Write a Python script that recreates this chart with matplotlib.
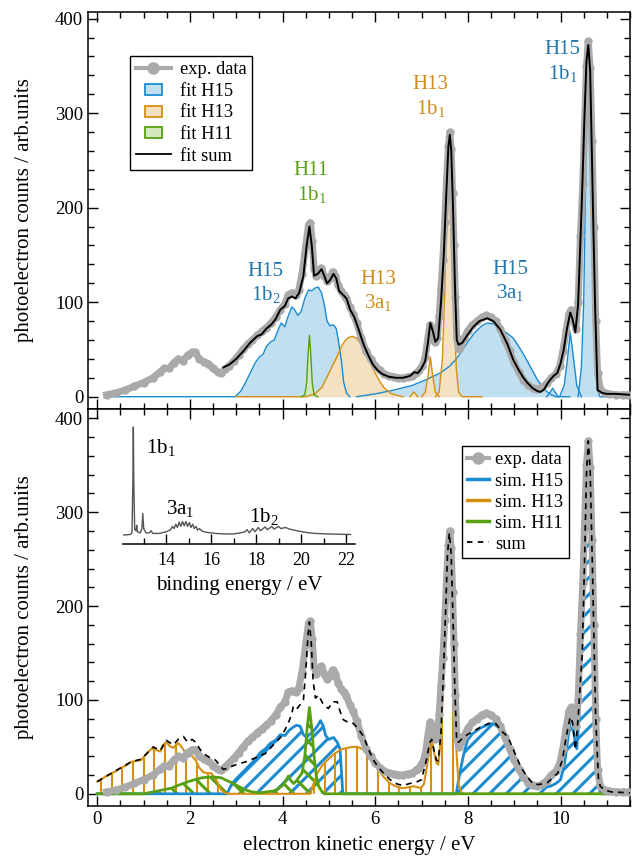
import numpy as np
import matplotlib
matplotlib.use("Agg")
import matplotlib.pyplot as plt
import matplotlib.patches as mpatches
from matplotlib.lines import Line2D
from matplotlib.legend_handler import HandlerPatch
from matplotlib.ticker import MultipleLocator

plt.rcParams['font.family'] = 'Liberation Serif'
plt.rcParams['mathtext.fontset'] = 'custom'
plt.rcParams['mathtext.rm'] = 'Liberation Serif'
plt.rcParams['mathtext.it'] = 'Liberation Serif:italic'
plt.rcParams['font.size'] = 13
plt.rcParams['axes.linewidth'] = 1.1

# colours
c_blue, f_blue, t_blue = '#1b8bd1', '#c0e0f1', '#2275ad'
c_orange, f_orange, t_orange = '#d68f10', '#f3e1bf', '#d08c1a'
c_green, f_green, t_green = '#57a011', '#d3e7c0', '#5aa01a'
c_gray = '#aaaaaa'

# ---------------- data ----------------
# experimental spectrum: electron kinetic energy (eV), counts
exp_data = np.array([
    [0.20, 2], [0.40, 4], [0.60, 7], [0.80, 11], [1.00, 15], [1.20, 20], [1.35, 26],
    [1.45, 30], [1.55, 30], [1.65, 36], [1.75, 40], [1.85, 38], [1.95, 44], [2.05, 47],
    [2.12, 47], [2.20, 40], [2.30, 37], [2.40, 35], [2.50, 30], [2.60, 26], [2.68, 25],
    [2.76, 29], [2.85, 33], [2.95, 38], [3.05, 44], [3.15, 50], [3.25, 56], [3.35, 60],
    [3.45, 65], [3.55, 69], [3.65, 73], [3.75, 78], [3.85, 84], [3.95, 92], [4.05, 98],
    [4.12, 108], [4.20, 110], [4.28, 108], [4.35, 113], [4.42, 130], [4.50, 160],
    [4.56, 182], [4.60, 184], [4.64, 165], [4.68, 135], [4.73, 128], [4.78, 133],
    [4.84, 136], [4.90, 128], [4.96, 122], [5.02, 126], [5.08, 132], [5.14, 128],
    [5.20, 118], [5.26, 112], [5.32, 108], [5.38, 104], [5.45, 95], [5.52, 88],
    [5.60, 78], [5.70, 62], [5.80, 48], [5.90, 40], [6.00, 33], [6.10, 28], [6.20, 24],
    [6.30, 22], [6.40, 21], [6.50, 20], [6.60, 20], [6.70, 21], [6.80, 22], [6.88, 25],
    [6.95, 28], [7.02, 33], [7.08, 42], [7.13, 60], [7.18, 76], [7.22, 72], [7.26, 62],
    [7.30, 58], [7.34, 62], [7.38, 85], [7.42, 115], [7.46, 145], [7.50, 185],
    [7.54, 230], [7.58, 265], [7.61, 280], [7.64, 262], [7.67, 215], [7.70, 160],
    [7.73, 105], [7.76, 62], [7.80, 50], [7.85, 55], [7.92, 62], [8.00, 70], [8.10, 76],
    [8.20, 80], [8.30, 84], [8.40, 86], [8.50, 84], [8.60, 80], [8.70, 72], [8.80, 60],
    [8.90, 48], [9.00, 36], [9.10, 26], [9.20, 18], [9.30, 12], [9.40, 9], [9.50, 8],
    [9.60, 10], [9.70, 14], [9.80, 20], [9.90, 24], [9.98, 32], [10.05, 48],
    [10.12, 70], [10.18, 88], [10.23, 92], [10.28, 82], [10.33, 72], [10.38, 100],
    [10.43, 170], [10.48, 225], [10.52, 290], [10.56, 350], [10.60, 376], [10.64, 348],
    [10.68, 270], [10.72, 180], [10.76, 80], [10.80, 25], [10.86, 8], [10.95, 4],
    [11.05, 3], [11.20, 2], [11.35, 2], [11.45, 2]])

# top panel: fit components
fit_h15_1b2 = np.array([
    [0.30, 0], [2.98, 0], [3.10, 6], [3.20, 15], [3.30, 25], [3.41, 36], [3.50, 42],
    [3.58, 45], [3.65, 53], [3.74, 58], [3.82, 60], [3.90, 70], [3.97, 78], [4.05, 74],
    [4.12, 85], [4.20, 95], [4.26, 92], [4.33, 86], [4.40, 90], [4.48, 104], [4.56, 113],
    [4.63, 112], [4.70, 115], [4.77, 116], [4.84, 110], [4.90, 98], [4.96, 80],
    [5.02, 75], [5.10, 76], [5.16, 72], [5.22, 55], [5.27, 38], [5.32, 15], [5.38, 4],
    [5.45, 0]])
fit_h15_3a1 = np.array([
    [5.60, 0], [6.00, 3], [6.40, 7], [6.80, 12], [7.10, 18], [7.40, 25], [7.60, 32],
    [7.75, 40], [7.84, 46], [8.00, 58], [8.15, 68], [8.30, 75], [8.42, 78], [8.55, 77],
    [8.70, 72], [8.85, 67], [8.98, 62], [9.10, 53], [9.20, 45], [9.28, 38], [9.40, 27],
    [9.50, 18], [9.57, 13], [9.65, 8], [9.72, 5], [9.80, 2], [9.90, 0], [10.20, 0]])
fit_h15_98 = np.array([[9.70, 0], [9.78, 5], [9.83, 9], [9.88, 5], [9.95, 0]])
fit_h15_102 = np.array([[9.98, 0], [10.08, 12], [10.15, 40], [10.21, 68], [10.27, 45],
                        [10.35, 12], [10.45, 0]])
fit_h15_1b1 = np.array([[10.38, 0], [10.45, 30], [10.50, 100], [10.55, 250], [10.60, 370],
                        [10.65, 300], [10.70, 170], [10.75, 60], [10.80, 8], [10.85, 0],
                        [11.30, 0]])
fit_h11_1b1 = np.array([[4.40, 0], [4.48, 2], [4.52, 15], [4.55, 45], [4.58, 65], [4.61, 45],
                        [4.64, 15], [4.68, 2], [4.76, 0]])
fit_h13_3a1 = np.array([
    [3.00, 0], [4.50, 0], [4.70, 3], [4.85, 10], [5.00, 25], [5.10, 35], [5.20, 45],
    [5.30, 56], [5.40, 62], [5.50, 64], [5.60, 62], [5.70, 55], [5.80, 45], [5.90, 35],
    [6.00, 25], [6.10, 16], [6.20, 9], [6.35, 3], [6.60, 0]])
fit_h13_69 = np.array([[6.75, 0], [6.80, 3], [6.83, 5], [6.87, 3], [6.92, 0]])
fit_h13_72 = np.array([[7.00, 0], [7.08, 5], [7.14, 22], [7.19, 42], [7.24, 22], [7.30, 5],
                       [7.38, 0]])
fit_h13_1b1 = np.array([[7.30, 0], [7.38, 5], [7.45, 40], [7.50, 110], [7.55, 205],
                        [7.60, 245], [7.65, 200], [7.70, 100], [7.75, 30], [7.80, 5],
                        [7.88, 0], [8.30, 0]])
fit_sum = np.array([
    [2.72, 31], [2.85, 34], [3.00, 40], [3.15, 48], [3.30, 57], [3.45, 64], [3.55, 66],
    [3.65, 72], [3.75, 76], [3.85, 82], [3.95, 92], [4.05, 96], [4.12, 104], [4.20, 106],
    [4.28, 104], [4.36, 110], [4.45, 128], [4.52, 160], [4.58, 180], [4.63, 160],
    [4.68, 128], [4.76, 130], [4.84, 135], [4.90, 128], [4.96, 120], [5.02, 123],
    [5.10, 130], [5.16, 125], [5.22, 112], [5.30, 108], [5.38, 104], [5.46, 92],
    [5.55, 84], [5.65, 70], [5.75, 55], [5.85, 44], [5.95, 34], [6.05, 28], [6.15, 24],
    [6.30, 21], [6.45, 20], [6.60, 20], [6.75, 22], [6.85, 26], [6.92, 25], [7.00, 30],
    [7.08, 38], [7.14, 58], [7.19, 78], [7.24, 70], [7.30, 58], [7.36, 62], [7.42, 100],
    [7.48, 150], [7.53, 210], [7.58, 265], [7.61, 277], [7.64, 262], [7.68, 200],
    [7.72, 120], [7.76, 60], [7.80, 55], [7.88, 57], [8.00, 66], [8.12, 74], [8.25, 80],
    [8.42, 83], [8.55, 80], [8.70, 71], [8.85, 56], [8.98, 39], [9.10, 28], [9.20, 20],
    [9.28, 15], [9.40, 9], [9.50, 6], [9.57, 5], [9.65, 8], [9.72, 14], [9.78, 18],
    [9.85, 22], [9.93, 25], [10.00, 35], [10.07, 50], [10.14, 72], [10.21, 89],
    [10.26, 82], [10.32, 68], [10.38, 98], [10.43, 165], [10.47, 222], [10.52, 300],
    [10.56, 355], [10.60, 372], [10.64, 345], [10.68, 250], [10.71, 177], [10.75, 90],
    [10.80, 7], [10.90, 4], [11.00, 3], [11.20, 3], [11.50, 2]])

# bottom panel: simulations
sim_h15 = np.array([
    [0.00, 0], [2.80, 0], [2.90, 10], [3.00, 16], [3.20, 26], [3.40, 36], [3.52, 44],
    [3.63, 48], [3.74, 54], [3.85, 57], [3.95, 63], [4.05, 62], [4.15, 68], [4.23, 71],
    [4.30, 73], [4.38, 72], [4.45, 63], [4.52, 60], [4.60, 64], [4.67, 67], [4.75, 72],
    [4.82, 78], [4.88, 72], [4.93, 62], [5.00, 58], [5.10, 60], [5.18, 55], [5.24, 48],
    [5.27, 25], [5.30, 0], [7.75, 0], [7.80, 15], [7.90, 40], [7.99, 57], [8.10, 64],
    [8.27, 70], [8.40, 73], [8.55, 75], [8.65, 71], [8.77, 65], [8.88, 54], [8.98, 43],
    [9.10, 30], [9.20, 22], [9.35, 13], [9.50, 8], [9.65, 7], [9.78, 8], [9.90, 11],
    [10.00, 15], [10.08, 30], [10.15, 55], [10.21, 78], [10.26, 80], [10.30, 60],
    [10.35, 48], [10.40, 80], [10.45, 150], [10.50, 230], [10.55, 320], [10.60, 375],
    [10.64, 345], [10.68, 260], [10.72, 170], [10.76, 80], [10.80, 20], [10.85, 3],
    [10.90, 0], [11.50, 0]])
sim_h13 = np.array([
    [0.00, 13], [0.10, 16], [0.24, 20], [0.40, 24], [0.52, 28], [0.62, 30], [0.73, 34],
    [0.85, 35], [0.95, 36], [1.05, 42], [1.15, 47], [1.21, 49], [1.30, 46], [1.36, 45],
    [1.42, 52], [1.49, 55], [1.56, 51], [1.64, 49], [1.70, 52], [1.75, 54], [1.82, 50],
    [1.90, 44], [1.98, 42], [2.05, 40], [2.12, 36], [2.20, 28], [2.29, 23], [2.38, 22],
    [2.46, 22], [2.52, 18], [2.57, 15], [2.63, 8], [2.68, 4], [2.75, 1], [2.85, 0],
    [4.60, 0], [4.65, 8], [4.75, 22], [4.85, 30], [4.97, 36], [5.10, 42], [5.25, 47],
    [5.40, 49], [5.52, 50], [5.62, 50], [5.75, 47], [5.85, 41], [5.96, 34], [6.07, 26],
    [6.18, 18], [6.30, 12], [6.40, 9], [6.50, 7], [6.61, 6], [6.72, 7], [6.83, 8],
    [6.92, 7], [6.98, 6], [7.05, 10], [7.12, 30], [7.18, 52], [7.22, 57], [7.27, 45],
    [7.32, 33], [7.36, 31], [7.42, 60], [7.47, 120], [7.52, 190], [7.56, 250],
    [7.60, 275], [7.64, 250], [7.68, 180], [7.72, 100], [7.76, 40], [7.80, 10],
    [7.85, 2], [7.90, 0], [11.50, 0]])
sim_h11 = np.array([
    [0.00, 0], [1.00, 0], [1.20, 2], [1.40, 4], [1.60, 6], [1.80, 10], [1.97, 13],
    [2.10, 15], [2.25, 17], [2.46, 18], [2.60, 17.5], [2.68, 17], [2.80, 14], [2.90, 12],
    [3.05, 8], [3.20, 4], [3.35, 2], [3.50, 1], [3.65, 2], [3.80, 3], [3.90, 5],
    [4.00, 9], [4.08, 15], [4.13, 19], [4.18, 14], [4.24, 11], [4.30, 14], [4.36, 18],
    [4.42, 22], [4.48, 40], [4.53, 70], [4.58, 92], [4.63, 70], [4.68, 40], [4.73, 18],
    [4.78, 8], [4.84, 3], [4.90, 0], [11.50, 0]])
sim_sum = np.array([
    [0.00, 13], [0.24, 20], [0.52, 28], [0.73, 34], [0.95, 37], [1.21, 50], [1.36, 46],
    [1.49, 57], [1.64, 52], [1.75, 58], [1.86, 61], [1.95, 55], [2.05, 58], [2.12, 55],
    [2.25, 45], [2.35, 41], [2.45, 38], [2.55, 36], [2.65, 30], [2.72, 26], [2.80, 27],
    [2.89, 29], [3.05, 32], [3.20, 34], [3.40, 38], [3.63, 43], [3.80, 52], [3.97, 61],
    [4.05, 68], [4.12, 75], [4.20, 85], [4.23, 93], [4.30, 90], [4.38, 95], [4.45, 100],
    [4.50, 130], [4.55, 170], [4.58, 183], [4.62, 160], [4.66, 120], [4.71, 102],
    [4.78, 105], [4.86, 97], [4.93, 93], [4.99, 91], [5.08, 98], [5.18, 98], [5.24, 88],
    [5.31, 79], [5.42, 76], [5.53, 75], [5.65, 68], [5.75, 61], [5.85, 48], [5.96, 36],
    [6.07, 28], [6.18, 22], [6.30, 16], [6.40, 12], [6.50, 10], [6.61, 9], [6.75, 11],
    [6.91, 13], [7.00, 15], [7.10, 35], [7.18, 55], [7.22, 58], [7.27, 46], [7.32, 36],
    [7.36, 35], [7.42, 65], [7.47, 125], [7.52, 195], [7.56, 255], [7.60, 278],
    [7.64, 255], [7.68, 185], [7.72, 110], [7.76, 55], [7.80, 55], [7.90, 60],
    [7.99, 63], [8.10, 66], [8.27, 71], [8.45, 75], [8.60, 75], [8.72, 67], [8.86, 61],
    [9.00, 45], [9.14, 29], [9.28, 18], [9.42, 10], [9.55, 10], [9.72, 12], [9.85, 18],
    [9.94, 22], [10.04, 36], [10.12, 60], [10.21, 82], [10.26, 76], [10.32, 47],
    [10.38, 80], [10.43, 120], [10.47, 150], [10.52, 250], [10.56, 340], [10.60, 376],
    [10.64, 345], [10.68, 260], [10.72, 170], [10.76, 80], [10.82, 15], [10.86, 8],
    [10.95, 4], [11.10, 2], [11.50, 1]])

# inset: photoelectron spectrum vs binding energy (eV), normalised
inset_spec = np.array([
    [12.10, 0.0], [12.40, 0.005], [12.48, 0.02], [12.52, 0.5], [12.54, 1.0], [12.56, 0.5],
    [12.60, 0.05], [12.66, 0.04], [12.69, 0.09], [12.72, 0.03], [12.85, 0.02],
    [12.92, 0.06], [12.96, 0.2], [13.00, 0.06], [13.10, 0.02], [13.25, 0.02],
    [13.33, 0.04], [13.40, 0.015], [13.70, 0.015], [14.00, 0.03], [14.20, 0.05],
    [14.28, 0.08], [14.35, 0.06], [14.43, 0.10], [14.50, 0.07], [14.58, 0.12],
    [14.65, 0.08], [14.73, 0.125], [14.80, 0.085], [14.88, 0.125], [14.95, 0.08],
    [15.03, 0.115], [15.10, 0.07], [15.18, 0.10], [15.25, 0.06], [15.33, 0.08],
    [15.40, 0.045], [15.48, 0.06], [15.60, 0.035], [15.80, 0.025], [16.20, 0.015],
    [16.60, 0.01], [17.00, 0.01], [17.30, 0.02], [17.50, 0.03], [17.60, 0.05],
    [17.70, 0.02], [17.85, 0.06], [17.95, 0.03], [18.10, 0.07], [18.20, 0.04],
    [18.40, 0.075], [18.50, 0.05], [18.70, 0.08], [18.80, 0.055], [19.00, 0.08],
    [19.10, 0.06], [19.30, 0.07], [19.50, 0.055], [19.80, 0.04], [20.20, 0.025],
    [20.60, 0.015], [21.20, 0.01], [22.20, 0.005]])

# peak labels: (x, y, text, colour)
top_labels = [(3.63, 120, "H15\n1b$_2$", t_blue), (4.62, 226, "H11\n1b$_1$", t_green),
              (6.07, 111, "H13\n3a$_1$", t_orange), (7.19, 317, "H13\n1b$_1$", t_orange),
              (8.92, 122, "H15\n3a$_1$", t_blue), (10.04, 354, "H15\n1b$_1$", t_blue)]
inset_labels = [(13.75, 0.81, "1b$_1$"), (14.62, 0.25, "3a$_1$"), (18.35, 0.17, "1b$_2$")]

# ---------------- figure ----------------
fig = plt.figure(figsize=(6.36, 8.63), dpi=100)
ax1 = fig.add_axes([88/636, 1 - 409/863, 542/636, 397/863])
ax2 = fig.add_axes([88/636, 1 - 806/863, 542/636, 397/863])

for ax in (ax1, ax2):
    ax.set_xlim(-0.2, 11.5)
    ax.xaxis.set_major_locator(MultipleLocator(2))
    ax.xaxis.set_minor_locator(MultipleLocator(0.5))
    ax.yaxis.set_major_locator(MultipleLocator(100))
    ax.yaxis.set_minor_locator(MultipleLocator(20))
    ax.tick_params(which='both', direction='in', top=True, right=True, width=1.0,
                   labelsize=13.5)
    ax.tick_params(which='major', length=7)
    ax.tick_params(which='minor', length=4)
    ax.set_ylabel('photoelectron counts / arb.units', fontsize=15, labelpad=15)
ax1.set_ylim(-13, 407)
ax2.set_ylim(-13, 410)
ax1.tick_params(labelbottom=False)

# ---- top panel: fits ----
for comp in (fit_h15_1b2, fit_h15_3a1, fit_h15_98, fit_h15_102, fit_h15_1b1):
    ax1.fill_between(comp[:, 0], comp[:, 1], color=f_blue, lw=0, zorder=1)
for comp in (fit_h13_3a1, fit_h13_69, fit_h13_72, fit_h13_1b1):
    ax1.fill_between(comp[:, 0], comp[:, 1], color=f_orange, lw=0, zorder=1.1)
ax1.fill_between(fit_h11_1b1[:, 0], fit_h11_1b1[:, 1], color=f_green, lw=0, zorder=1.2)
for comp in (fit_h15_1b2, fit_h15_3a1, fit_h15_98, fit_h15_102, fit_h15_1b1):
    ax1.plot(comp[:, 0], comp[:, 1], color=c_blue, lw=1.0, zorder=2)
for comp in (fit_h13_3a1, fit_h13_69, fit_h13_72, fit_h13_1b1):
    ax1.plot(comp[:, 0], comp[:, 1], color=c_orange, lw=1.0, zorder=2)
ax1.plot(fit_h11_1b1[:, 0], fit_h11_1b1[:, 1], color=c_green, lw=1.0, zorder=2)

ax1.plot(exp_data[:, 0], exp_data[:, 1], '-o', color=c_gray, lw=5, ms=5, zorder=3)
ax1.plot(fit_sum[:, 0], fit_sum[:, 1], color='black', lw=1.4, zorder=4)

for x, y, s, c in top_labels:
    ax1.text(x, y, s, color=c, ha='center', va='center', fontsize=15, linespacing=1.2)


def small_box(legend, orig_handle, xdescent, ydescent, width, height, fontsize):
    return mpatches.Rectangle((-xdescent + width * 0.26, -ydescent + height * 0.05),
                              width * 0.48, height * 0.85)


h_top = [Line2D([], [], color=c_gray, lw=3, marker='o', ms=8),
         mpatches.Patch(facecolor=f_blue, edgecolor=c_blue, lw=1.3),
         mpatches.Patch(facecolor=f_orange, edgecolor=c_orange, lw=1.3),
         mpatches.Patch(facecolor=f_green, edgecolor=c_green, lw=1.3),
         Line2D([], [], color='black', lw=1.3)]
leg1 = ax1.legend(h_top, ['exp. data', 'fit H15', 'fit H13', 'fit H11', 'fit sum'],
                  loc='upper left', bbox_to_anchor=(0.0775, 0.89), borderaxespad=0,
                  fontsize=13.3, fancybox=False, edgecolor='black', framealpha=1,
                  handlelength=1.9, labelspacing=0.25, borderpad=0.3, handletextpad=0.5,
                  handler_map={mpatches.Patch: HandlerPatch(patch_func=small_box)})
leg1.get_frame().set_linewidth(1.0)

# ---- bottom panel: simulations ----
plt.rcParams['hatch.linewidth'] = 2.2
hb = ax2.fill_between(sim_h15[:, 0], sim_h15[:, 1], facecolor='none', edgecolor=c_blue,
                      hatch='//', lw=0, zorder=1)
hg = ax2.fill_between(sim_h11[:, 0], sim_h11[:, 1], facecolor='none', edgecolor=c_green,
                      hatch='\\\\', lw=0, zorder=1.2)
for h in (hb, hg):
    if hasattr(h, 'set_hatch_linewidth'):
        h.set_hatch_linewidth(2.2)

# orange: vertical-line hatching clipped to the H13 area
ho = ax2.fill_between(sim_h13[:, 0], sim_h13[:, 1], facecolor='none', lw=0, zorder=1.1)
vl = ax2.vlines(np.arange(0.08, 11.5, 0.23), 0, 420, color=c_orange, lw=1.5, zorder=1.1)
vl.set_clip_path(ho.get_paths()[0], transform=ax2.transData)

ax2.plot(sim_h15[:, 0], sim_h15[:, 1], color=c_blue, lw=2.0, zorder=2)
ax2.plot(sim_h13[:, 0], sim_h13[:, 1], color=c_orange, lw=1.5, zorder=2.1)
ax2.plot(sim_h11[:, 0], sim_h11[:, 1], color=c_green, lw=2.0, zorder=2.2)

ax2.plot(exp_data[:, 0], exp_data[:, 1], '-o', color=c_gray, lw=5, ms=5, zorder=3)
ax2.plot(sim_sum[:, 0], sim_sum[:, 1], color='black', lw=1.2, ls=(0, (3.5, 3)), zorder=4)
ax2.set_xlabel('electron kinetic energy / eV', fontsize=15, labelpad=6)

h_bot = [Line2D([], [], color=c_gray, lw=3, marker='o', ms=8),
         Line2D([], [], color=c_blue, lw=2.5),
         Line2D([], [], color=c_orange, lw=2.5),
         Line2D([], [], color=c_green, lw=2.5),
         Line2D([], [], color='black', lw=1.3, ls=(0, (3, 3)))]
leg2 = ax2.legend(h_bot, ['exp. data', 'sim. H15', 'sim. H13', 'sim. H11', 'sum'],
                  loc='upper right', bbox_to_anchor=(0.887, 0.907), borderaxespad=0,
                  fontsize=13.3, fancybox=False, edgecolor='black', framealpha=1,
                  handlelength=1.15, labelspacing=0.22, borderpad=0.3, handletextpad=0.35)
leg2.get_frame().set_linewidth(1.0)

# ---- inset ----
axi = fig.add_axes([123/636, 1 - 544/863, 232/636, 124/863])
axi.patch.set_alpha(0)
axi.plot(inset_spec[:, 0], inset_spec[:, 1], color='#555555', lw=1.0)
axi.set_xlim(12.08, 22.4)
axi.set_ylim(-0.083, 1.065)
for s in ('left', 'right', 'top'):
    axi.spines[s].set_visible(False)
axi.set_yticks([])
axi.xaxis.set_major_locator(MultipleLocator(2))
axi.xaxis.set_minor_locator(MultipleLocator(1))
axi.tick_params(which='both', direction='in', labelsize=13, width=1.0, pad=6)
axi.tick_params(which='major', length=7)
axi.tick_params(which='minor', length=4)
axi.set_xlabel('binding energy / eV', fontsize=15, labelpad=5)
for x, y, s in inset_labels:
    axi.text(x, y, s, ha='center', va='center', fontsize=15)

fig.savefig('out.png', dpi=100)
